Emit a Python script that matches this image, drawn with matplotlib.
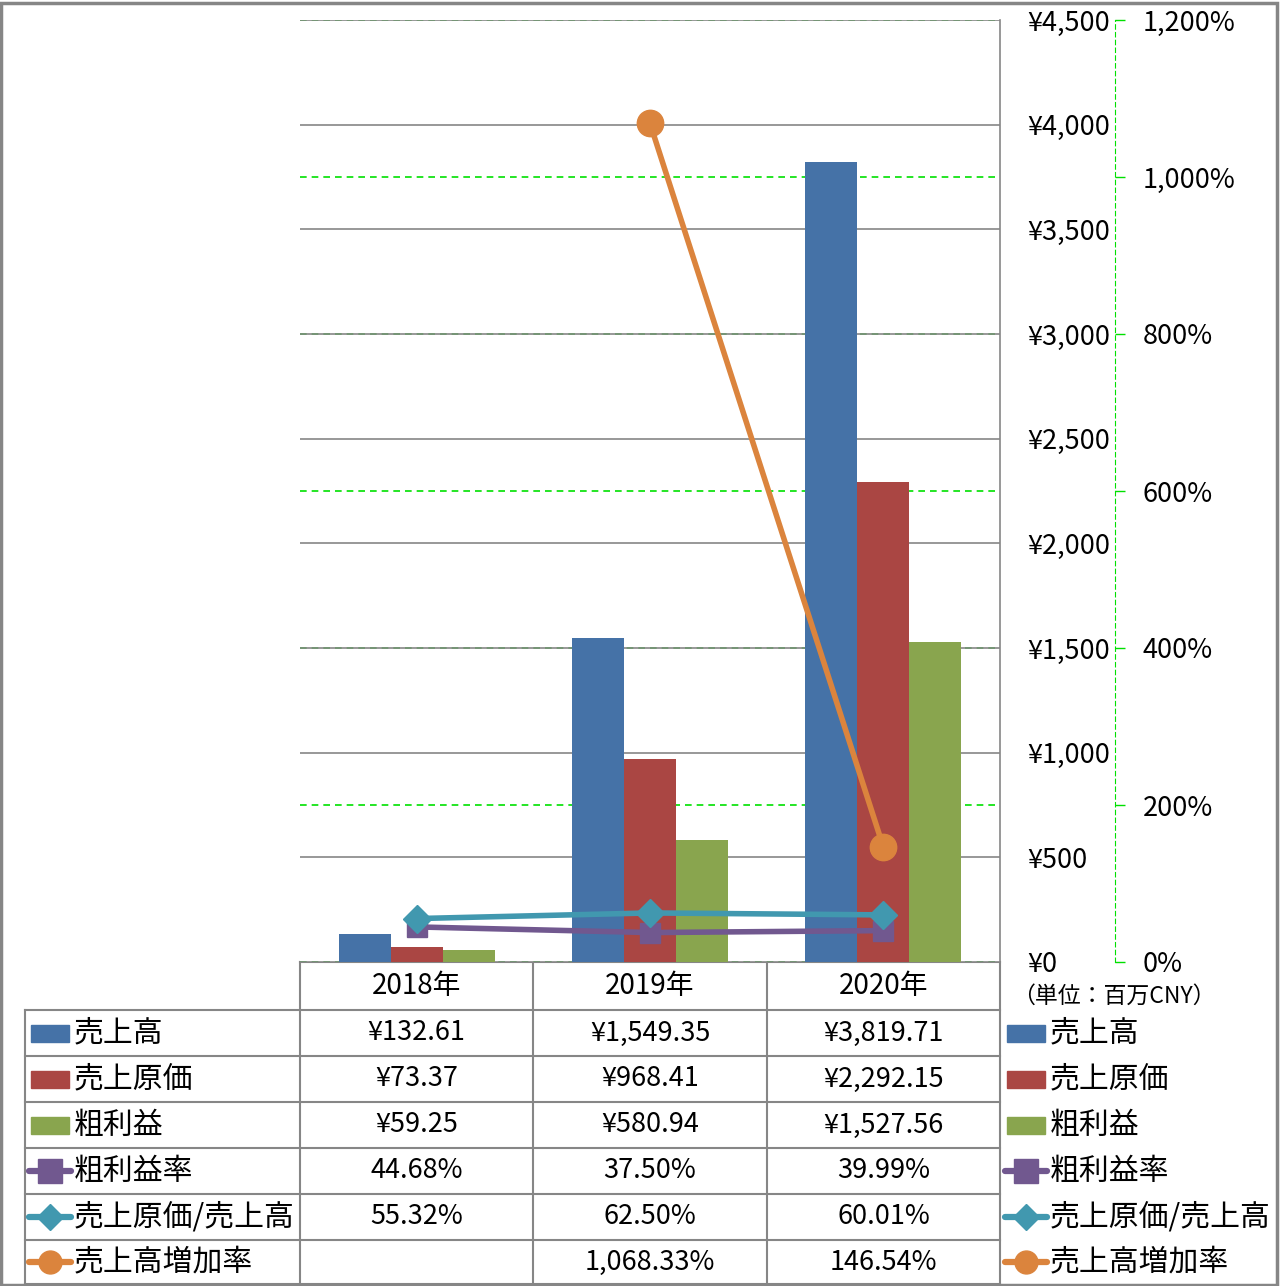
import matplotlib
matplotlib.use("Agg")
import matplotlib.pyplot as plt
import matplotlib.transforms as mtransforms
from matplotlib.patches import Rectangle
from matplotlib.lines import Line2D
from matplotlib.ticker import FuncFormatter, MultipleLocator
import numpy as np

plt.rcParams['font.family'] = ['Noto Sans CJK JP', 'DejaVu Sans']

# data
years = ['2018年', '2019年', '2020年']
sales = [132.61, 1549.35, 3819.71]
cost = [73.37, 968.41, 2292.15]
gross = [59.25, 580.94, 1527.56]
gross_rate = [44.68, 37.50, 39.99]
cost_rate = [55.32, 62.50, 60.01]
growth = [np.nan, 1068.33, 146.54]

bar_names = ['売上高', '売上原価', '粗利益']
line_names = ['粗利益率', '売上原価/売上高', '売上高増加率']
bar_colors = ['#4572A7', '#AA4643', '#89A54E']
line_colors = ['#71588F', '#4198AF', '#DB843D']
line_markers = ['s', 'D', 'o']
line_msize = [14.5, 14, 19]
key_msize = [17, 13.5, 16.5]

W, H = 1280, 1286
fig = plt.figure(figsize=(W / 100, H / 100), dpi=100)

def px_rect(x0, y0, x1, y1):
    return [x0 / W, 1 - y1 / H, (x1 - x0) / W, (y1 - y0) / H]

ax = fig.add_axes(px_rect(300, 20, 1000, 962))
ax2 = ax.twinx()

x = np.arange(len(years))
bw = 0.223
for i, (vals, c) in enumerate(zip([sales, cost, gross], bar_colors)):
    ax.bar(x + (i - 1) * bw, vals, width=bw, color=c, zorder=2)

ax.set_xlim(-0.5, 2.5)
ax.set_ylim(0, 4500)
ax.yaxis.set_major_locator(MultipleLocator(500))
ax.yaxis.tick_right()
ax.yaxis.set_major_formatter(FuncFormatter(lambda v, p: f'¥{v:,.0f}'))
ax.tick_params(axis='y', length=0, pad=20, labelsize=19.5)
ax.set_xticks([])
ax.grid(axis='y', color='#868686', lw=1.2, zorder=0)
for s in ['left', 'top', 'bottom']:
    ax.spines[s].set_visible(False)
ax.spines['right'].set_color('#868686')
ax.spines['right'].set_linewidth(1.2)

# secondary axis
ax2.set_ylim(0, 1200)
ax2.yaxis.set_major_locator(MultipleLocator(200))
ax2.yaxis.set_major_formatter(FuncFormatter(lambda v, p: f'{v:,.0f}%'))
ax2.spines['right'].set_position(('outward', 115 * 0.72))
ax2.spines['right'].set_color('#00E000')
ax2.spines['right'].set_linestyle((0, (4, 3)))
for s in ['left', 'top', 'bottom']:
    ax2.spines[s].set_visible(False)
ax2.tick_params(axis='y', color='#00E000', length=7, width=1, pad=13, labelsize=19.5)

# green dashed gridlines behind the bars
blend = mtransforms.blended_transform_factory(ax.transAxes, ax2.transData)
ax.hlines(ax2.get_yticks(), 0, 1, transform=blend, colors='#00E000', lw=1.2,
          linestyles=(0, (4, 3)), zorder=1)

for vals, c, m, ms in zip([gross_rate, cost_rate, growth], line_colors, line_markers, line_msize):
    ax2.plot(x, vals, color=c, lw=4, marker=m, ms=ms, zorder=3, solid_capstyle='round')

# table / legend drawn in a figure-level pixel axes
tab = fig.add_axes([0, 0, 1, 1], zorder=-1)
tab.set_xlim(0, W)
tab.set_ylim(H, 0)
tab.axis('off')

col_edges = [25, 300, 533, 767, 1000]
row_edges = [962, 1010, 1056, 1102, 1148, 1194, 1240, 1284]
gc = '#868686'

tab.plot([300, 1000], [962, 962], color=gc, lw=1.5)
for y in row_edges[1:]:
    tab.plot([25, 1000], [y, y], color=gc, lw=1.5)
for xe in col_edges:
    top = 962 if xe >= 300 else 1010
    tab.plot([xe, xe], [top, 1284], color=gc, lw=1.5)

for j, yr in enumerate(years):
    cx = (col_edges[j + 1] + col_edges[j + 2]) / 2
    tab.text(cx, (row_edges[0] + row_edges[1]) / 2, yr, ha='center', va='center', fontsize=20)

rows = [sales, cost, gross, gross_rate, cost_rate, growth]
fmts = ['¥{:,.2f}'] * 3 + ['{:,.2f}%'] * 3
names = bar_names + line_names
colors = bar_colors + line_colors

def draw_key(xl, cy, k):
    if k < 3:
        tab.add_patch(Rectangle((xl + 2, cy - 8.5), 38, 17, color=colors[k]))
    else:
        tab.add_line(Line2D([xl, xl + 42], [cy, cy], color=colors[k], lw=4.5, solid_capstyle='round'))
        tab.add_line(Line2D([xl + 21], [cy], color=colors[k], marker=line_markers[k - 3],
                            ms=key_msize[k - 3], lw=0))

for r, (vals, f) in enumerate(zip(rows, fmts)):
    cy = (row_edges[r + 1] + row_edges[r + 2]) / 2
    for j, v in enumerate(vals):
        if np.isnan(v):
            continue
        cx = (col_edges[j + 1] + col_edges[j + 2]) / 2
        tab.text(cx, cy, f.format(v), ha='center', va='center', fontsize=19.5)
    draw_key(29, cy, r)
    tab.text(74, cy, names[r], ha='left', va='center', fontsize=21.5)
    draw_key(1005, cy, r)
    tab.text(1050, cy, names[r], ha='left', va='center', fontsize=21.5)

tab.text(1012, 996, '（単位：百万CNY）', ha='left', va='center', fontsize=16.5)

# outer frame
fig.patches.append(Rectangle((0.001, 0.001), 0.997, 0.997, transform=fig.transFigure,
                             fill=False, edgecolor='#868686', lw=2.5))

fig.savefig('out.png', dpi=100)
